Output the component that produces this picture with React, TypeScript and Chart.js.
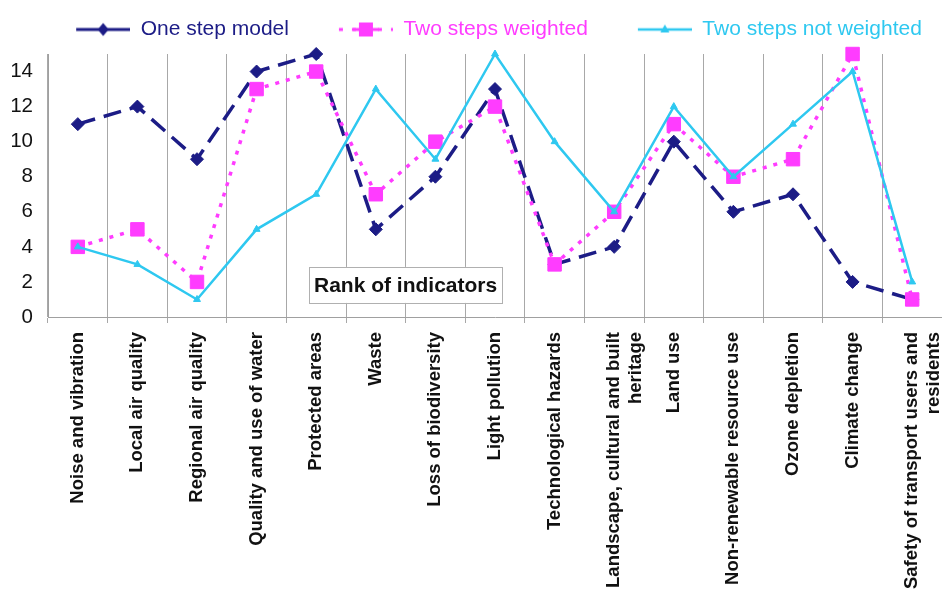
import React, { useEffect, useRef } from 'react';
import { Chart, registerables } from 'chart.js';

Chart.register(...registerables);

const categories: (string | string[])[] = [
  'Noise and vibration',
  'Local air quality',
  'Regional air quality',
  'Quality and use of water',
  'Protected areas',
  'Waste',
  'Loss of biodiversity',
  'Light pollution',
  'Technological hazards',
  ['Landscape, cultural and built', 'heritage'],
  'Land use',
  'Non-renewable resource use',
  'Ozone depletion',
  'Climate change',
  ['Safety of transport users and', 'residents'],
];

const oneStepModel = [11, 12, 9, 14, 15, 5, 8, 13, 3, 4, 10, 6, 7, 2, 1];
const twoStepsWeighted = [4, 5, 2, 13, 14, 7, 10, 12, 3, 6, 11, 8, 9, 15, 1];
const twoStepsNotWeighted = [4, 3, 1, 5, 7, 13, 9, 15, 10, 6, 12, 8, 11, 14, 2];

const seriesNames = ['One step model', 'Two steps weighted', 'Two steps not weighted'];
const yTickValues = [0, 2, 4, 6, 8, 10, 12, 14];
const annotationText = 'Rank of indicators';

const NAVY = '#1c1c86';
const MAGENTA = '#ff3cff';
const CYAN = '#2ec8f0';
const FONT = '"Liberation Sans", Arial, Helvetica, sans-serif';

function makeIcon(kind: 'diamond' | 'square' | 'triangle'): HTMLCanvasElement {
  const c = document.createElement('canvas');
  c.width = 94;
  c.height = 22;
  const ctx = c.getContext('2d') as CanvasRenderingContext2D;
  const y = 11;
  const x0 = 40;
  const x1 = 94;
  const mx = (x0 + x1) / 2;
  if (kind === 'diamond') {
    ctx.strokeStyle = NAVY;
    ctx.lineWidth = 3;
    ctx.beginPath();
    ctx.moveTo(x0, y);
    ctx.lineTo(x1, y);
    ctx.stroke();
    ctx.fillStyle = NAVY;
    ctx.beginPath();
    ctx.moveTo(mx, y - 6.5);
    ctx.lineTo(mx + 5.5, y);
    ctx.lineTo(mx, y + 6.5);
    ctx.lineTo(mx - 5.5, y);
    ctx.closePath();
    ctx.fill();
  } else if (kind === 'square') {
    ctx.strokeStyle = MAGENTA;
    ctx.lineWidth = 3;
    ctx.setLineDash([4, 9]);
    ctx.beginPath();
    ctx.moveTo(x0, y);
    ctx.lineTo(x1, y);
    ctx.stroke();
    ctx.setLineDash([]);
    ctx.beginPath();
    ctx.moveTo(mx - 13, y);
    ctx.lineTo(mx + 13, y);
    ctx.stroke();
    ctx.fillStyle = MAGENTA;
    ctx.fillRect(mx - 7, y - 7, 14, 14);
  } else {
    ctx.strokeStyle = CYAN;
    ctx.lineWidth = 2.5;
    ctx.beginPath();
    ctx.moveTo(x0, y);
    ctx.lineTo(x1, y);
    ctx.stroke();
    ctx.fillStyle = CYAN;
    ctx.beginPath();
    ctx.moveTo(mx, y - 5);
    ctx.lineTo(mx + 4.5, y + 3);
    ctx.lineTo(mx - 4.5, y + 3);
    ctx.closePath();
    ctx.fill();
  }
  return c;
}

const LEGEND_SHIFT = 2;

const legendTweak = {
  id: 'legendTweak',
  beforeInit(chart: any) {
    const legend = chart.legend;
    if (!legend) return;
    const origFit = legend.fit;
    legend.fit = function () {
      origFit.call(this);
      this.height += 4;
    };
    const origDraw = legend.draw;
    legend.draw = function () {
      this.left += LEGEND_SHIFT;
      this.right += LEGEND_SHIFT;
      origDraw.call(this);
      this.left -= LEGEND_SHIFT;
      this.right -= LEGEND_SHIFT;
    };
  },
};

const rankBox = {
  id: 'rankBox',
  afterDatasetsDraw(chart: any) {
    const { ctx, scales } = chart;
    const cx = scales.x.getPixelForValue(5.5);
    const cy = scales.y.getPixelForValue(1.83);
    ctx.save();
    ctx.font = `bold 21px ${FONT}`;
    const w = ctx.measureText(annotationText).width + 10;
    const h = 36;
    ctx.fillStyle = '#ffffff';
    ctx.fillRect(cx - w / 2, cy - h / 2, w, h);
    ctx.strokeStyle = '#b0b0b0';
    ctx.lineWidth = 1;
    ctx.strokeRect(Math.round(cx - w / 2) + 0.5, Math.round(cy - h / 2) + 0.5, Math.round(w), h);
    ctx.fillStyle = '#111111';
    ctx.textAlign = 'center';
    ctx.textBaseline = 'middle';
    ctx.fillText(annotationText, cx, cy + 1);
    ctx.restore();
  },
};

const zeroPadding = () => ({ left: 0, top: 0, right: 0, bottom: 0 });

export default function App() {
  const ref = useRef<HTMLCanvasElement | null>(null);

  useEffect(() => {
    if (!ref.current) return;
    const icons = [makeIcon('diamond'), makeIcon('square'), makeIcon('triangle')];
    const colors = [NAVY, MAGENTA, CYAN];

    const chart = new Chart(ref.current, {
      type: 'line',
      data: {
        labels: categories,
        datasets: [
          {
            label: seriesNames[0],
            data: oneStepModel,
            borderColor: NAVY,
            backgroundColor: NAVY,
            borderWidth: 3.5,
            borderDash: [18, 9],
            pointStyle: 'rectRot',
            pointRadius: 6.5,
            pointBorderWidth: 1,
            tension: 0,
            clip: false,
            order: 3,
          },
          {
            label: seriesNames[1],
            data: twoStepsWeighted,
            borderColor: MAGENTA,
            backgroundColor: MAGENTA,
            borderWidth: 3.5,
            borderDash: [4, 7],
            pointStyle: 'rect',
            pointRadius: 9.5,
            pointBorderWidth: 1,
            tension: 0,
            clip: false,
            order: 2,
          },
          {
            label: seriesNames[2],
            data: twoStepsNotWeighted,
            borderColor: CYAN,
            backgroundColor: CYAN,
            borderWidth: 2.5,
            pointStyle: 'triangle',
            pointRadius: 4,
            pointBorderWidth: 1,
            tension: 0,
            clip: false,
            order: 1,
          },
        ],
      },
      options: {
        responsive: false,
        animation: false,
        layout: { autoPadding: false, padding: { left: 12, right: 0, top: 9, bottom: 0 } },
        plugins: {
          tooltip: { enabled: false },
          legend: {
            display: true,
            position: 'top',
            labels: {
              usePointStyle: true,
              pointStyleWidth: 94,
              padding: 10,
              font: { family: FONT, size: 21 },
              generateLabels: (ch: any) =>
                ch.data.datasets.map((ds: any, i: number) => ({
                  text: ds.label,
                  fontColor: colors[i],
                  fillStyle: colors[i],
                  strokeStyle: colors[i],
                  lineWidth: 0,
                  pointStyle: icons[i],
                  hidden: false,
                  datasetIndex: i,
                })),
            },
          },
        },
        scales: {
          x: {
            type: 'category',
            offset: true,
            grid: {
              display: true,
              offset: true,
              color: '#a8a8a8',
              lineWidth: 1,
              drawTicks: true,
              tickLength: 6,
            },
            border: { display: true, color: '#a0a0a0', width: 1 },
            ticks: {
              autoSkip: false,
              maxRotation: 90,
              minRotation: 90,
              padding: 9,
              color: '#111111',
              font: { family: FONT, size: 18.5, weight: 'bold' },
            },
            afterFit: (scale: any) => {
              scale.height = 273;
              scale.paddingLeft = 0;
              scale.paddingRight = 0;
              scale.getPadding = zeroPadding;
            },
          },
          y: {
            min: 0,
            max: 15,
            grid: { display: false, drawTicks: false },
            border: { display: true, color: '#a0a0a0', width: 1 },
            ticks: {
              stepSize: 2,
              padding: 15,
              color: '#111111',
              font: { family: FONT, size: 20.5 },
            },
            afterBuildTicks: (scale: any) => {
              scale.ticks = yTickValues.map((v) => ({ value: v }));
            },
            afterFit: (scale: any) => {
              scale.width = 36;
              scale.getPadding = zeroPadding;
            },
          },
        },
      },
      plugins: [legendTweak, rankBox],
    } as any);

    return () => chart.destroy();
  }, []);

  return (
    <div style={{ position: 'fixed', left: 0, top: 0, width: 942, height: 590, background: '#ffffff' }}>
      <canvas ref={ref} width={942} height={590} style={{ display: 'block' }} />
    </div>
  );
}
